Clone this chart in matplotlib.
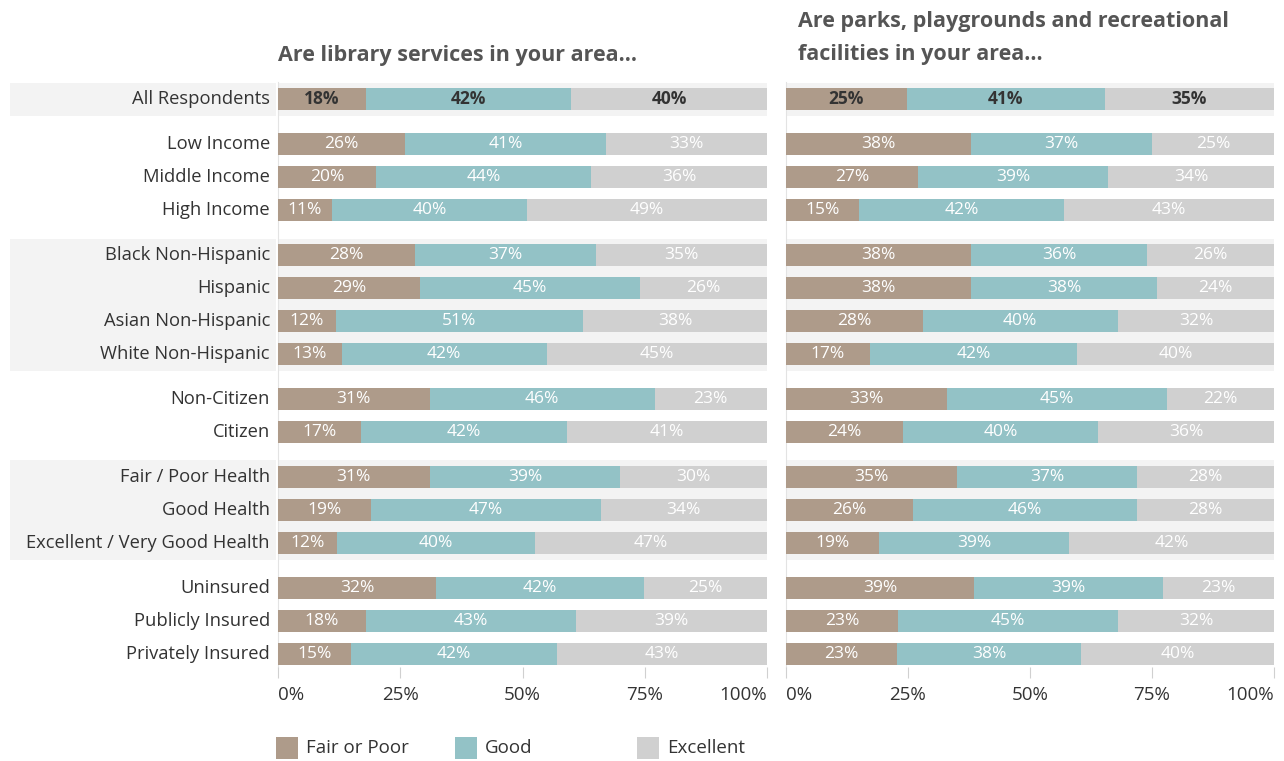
import matplotlib
matplotlib.use("Agg")
import matplotlib.pyplot as plt
from matplotlib.patches import Rectangle
from matplotlib.transforms import blended_transform_factory
import numpy as np

plt.rcParams['font.family'] = ['Open Sans', 'DejaVu Sans']

groups = [
    ["All Respondents"],
    ["Low Income", "Middle Income", "High Income"],
    ["Black Non-Hispanic", "Hispanic", "Asian Non-Hispanic", "White Non-Hispanic"],
    ["Non-Citizen", "Citizen"],
    ["Fair / Poor Health", "Good Health", "Excellent / Very Good Health"],
    ["Uninsured", "Publicly Insured", "Privately Insured"],
]
series = ["Fair or Poor", "Good", "Excellent"]
colors = ["#ae9b8a", "#93c2c6", "#d0d0d0"]

library_fair = [18, 26, 20, 11, 28, 29, 12, 13, 31, 17, 31, 19, 12, 32, 18, 15]
library_good = [42, 41, 44, 40, 37, 45, 51, 42, 46, 42, 39, 47, 40, 42, 43, 42]
library_exc = [40, 33, 36, 49, 35, 26, 38, 45, 23, 41, 30, 34, 47, 25, 39, 43]

parks_fair = [25, 38, 27, 15, 38, 38, 28, 17, 33, 24, 35, 26, 19, 39, 23, 23]
parks_good = [41, 37, 39, 42, 36, 38, 40, 42, 45, 40, 37, 46, 39, 39, 45, 38]
parks_exc = [35, 25, 34, 43, 26, 24, 32, 40, 22, 36, 28, 28, 42, 23, 32, 40]

titles = ["Are library services in your area...",
          "Are parks, playgrounds and recreational\nfacilities in your area..."]
xticks = [0, 25, 50, 75, 100]
xticklabels = ["0%", "25%", "50%", "75%", "100%"]

W, H = 1284, 761
fig = plt.figure(figsize=(W / 100, H / 100), dpi=100)

# row positions (one unit per row, larger gap between groups)
unit = 33.0
gap = 45.0 / unit
ypos, labels, band_groups = [], [], []
y = 0.0
for gi, g in enumerate(groups):
    if gi > 0:
        y += gap - 1
    start = y
    for lab in g:
        ypos.append(y)
        labels.append(lab)
        y += 1
    band_groups.append((start, y - 1))

ypos = np.array(ypos)

top_px, bot_px, first_px = 82, 667, 99
ylim = ((bot_px - first_px) / unit, -(first_px - top_px) / unit)

panels = [(278, 767, library_fair, library_good, library_exc),
          (786, 1274, parks_fair, parks_good, parks_exc)]
band_color = "#f3f3f3"
axes = []
for pi, (x0, x1, f, g, e) in enumerate(panels):
    ax = fig.add_axes([x0 / W, 1 - bot_px / H, (x1 - x0) / W, (bot_px - top_px) / H])
    axes.append(ax)
    ax.set_xlim(0, 100)
    ax.set_ylim(*ylim)
    data = np.array([f, g, e], dtype=float)
    totals = data.sum(axis=0)
    norm = data / totals * 100
    left = np.zeros(len(labels))
    for bi, (s, t) in enumerate(band_groups):
        if bi % 2 == 0:
            ax.axhspan(s - 0.5, t + 0.5, color=band_color, zorder=0, lw=0)
    for si in range(3):
        ax.barh(ypos, norm[si], left=left, height=0.67, color=colors[si], zorder=2, lw=0)
        for ri in range(len(labels)):
            cx = left[ri] + norm[si][ri] / 2
            if ri == 0:
                ax.text(cx, ypos[ri], f"{int(data[si][ri])}%", ha="center", va="center",
                        color="#333333", fontsize=12.5, fontweight="bold", zorder=3)
            else:
                ax.text(cx, ypos[ri], f"{int(data[si][ri])}%", ha="center", va="center",
                        color="white", fontsize=12.5, fontweight="medium", zorder=3)
        left = left + norm[si]
    for sp in ["top", "right", "bottom"]:
        ax.spines[sp].set_visible(False)
    ax.spines["left"].set_color("#e3e3e3")
    ax.spines["left"].set_zorder(1)
    ax.set_yticks([])
    ax.set_xticks(xticks)
    ax.set_xticklabels(xticklabels, fontsize=13.5, color="#333333")
    ax.tick_params(axis="x", length=8, color="#d0d0d0", pad=6)
    tl = ax.get_xticklabels()
    tl[0].set_ha("left")
    tl[-1].set_ha("right")
    ax.set_facecolor("none")

# row labels and label-area bands
axL = axes[0]
tr = blended_transform_factory(fig.transFigure, axL.transData)
for bi, (s, t) in enumerate(band_groups):
    if bi % 2 == 0:
        fig.patches.append(Rectangle((10 / W, s - 0.5), (276 - 10) / W, (t - s) + 1,
                                     transform=tr, color=band_color, lw=0, zorder=0))
for yy, lab in zip(ypos, labels):
    fig.text(270 / W, yy, lab, transform=tr, ha="right", va="center",
             fontsize=13.2, color="#333333")

# titles
fig.text(278 / W, 1 - 55 / H, titles[0], ha="left", va="center", fontsize=15.5,
         fontweight="bold", color="#555555")
fig.text(798 / W, 1 - 38 / H, titles[1], ha="left", va="center", fontsize=15.5,
         fontweight="bold", color="#555555", linespacing=1.78)

# legend
leg_x = [276, 455, 637]
for lx, name, c in zip(leg_x, series, colors):
    fig.patches.append(Rectangle((lx / W, 1 - 759 / H), 22 / W, 22 / H,
                                 transform=fig.transFigure, color=c, lw=0))
    fig.text((lx + 30) / W, 1 - 748 / H, name, ha="left", va="center",
             fontsize=13.5, color="#333333")

fig.savefig("out.png", dpi=100)
